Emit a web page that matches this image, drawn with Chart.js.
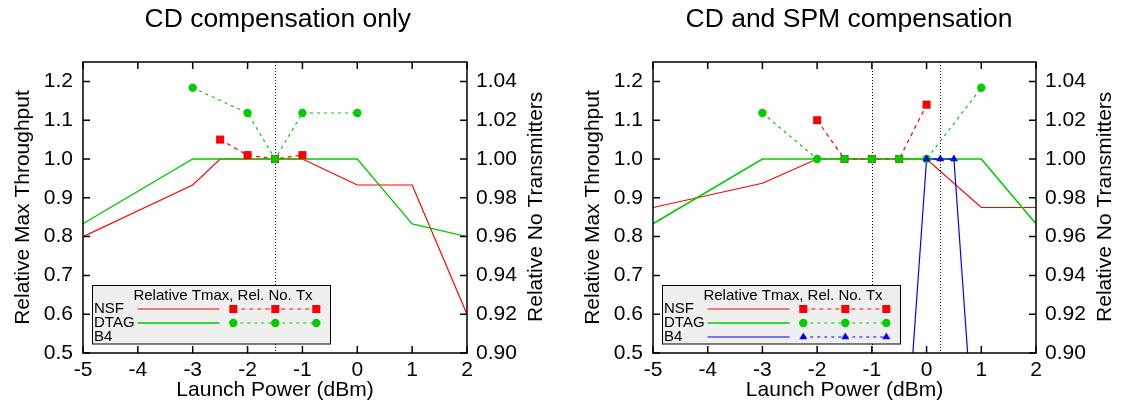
<!DOCTYPE html>
<html><head><meta charset="utf-8">
<script src="https://cdn.jsdelivr.net/npm/chart.js@4"></script>
<style>
html,body{margin:0;padding:0;background:#fff;}
#wrap{position:relative;width:1125px;height:406px;overflow:hidden;background:#fff;}
canvas{position:absolute;top:0;}
</style></head><body>
<div id="wrap">
<canvas id="c1" width="562" height="406" style="left:0px"></canvas>
<canvas id="c2" width="563" height="406" style="left:562px"></canvas>
</div>
<script>
const FONT = "'Liberation Sans', Arial, Helvetica, sans-serif";

// ---- axis ticks / labels ----
const xTicks = [-5, -4, -3, -2, -1, 0, 1, 2];
const yTmaxTicks = [0.5, 0.6, 0.7, 0.8, 0.9, 1.0, 1.1, 1.2];
const yTxTicks = [0.90, 0.92, 0.94, 0.96, 0.98, 1.00, 1.02, 1.04];
const chartTitles = ['CD compensation only', 'CD and SPM compensation'];
const xTitle = 'Launch Power (dBm)';
const yTmaxTitle = 'Relative Max Throughput';
const yTxTitle = 'Relative No Transmitters';
const legendTitle = 'Relative Tmax, Rel. No. Tx';
const seriesNames = ['NSF', 'DTAG', 'B4'];

// ---- left panel: CD compensation only ----
const cdNsfPower   = [-5, -3, -2.5, -1, 0, 1, 2];
const cdNsfTmax    = [0.80, 0.933, 1.0, 1.0, 0.933, 0.933, 0.60];
const cdDtagPower  = [-5, -3, 0, 1, 2];
const cdDtagTmax   = [0.833, 1.0, 1.0, 0.833, 0.80];
const cdNsfTxPower = [-2.5, -2, -1.5, -1];
const cdNsfTx      = [1.010, 1.002, 1.000, 1.002];
const cdDtagTxPower = [-3, -2, -1.5, -1, 0];
const cdDtagTx      = [1.0367, 1.0237, 1.000, 1.0237, 1.0237];
const cdOptima = [-1.5];

// ---- right panel: CD and SPM compensation ----
const spmNsfPower   = [-5, -3, -2, 0, 1, 2];
const spmNsfTmax    = [0.875, 0.9375, 1.0, 1.0, 0.875, 0.875];
const spmDtagPower  = [-5, -3, 1, 2];
const spmDtagTmax   = [0.833, 1.0, 1.0, 0.833];
const spmB4Power    = [-0.5, 0, 0.25, 0.5, 1];
const spmB4Tmax     = [0.0, 1.0, 1.0, 1.0, 0.0];
const spmNsfTxPower = [-2, -1.5, -1, -0.5, 0];
const spmNsfTx      = [1.020, 1.000, 1.000, 1.000, 1.028];
const spmDtagTxPower = [-3, -2, -1.5, -1, -0.5, 0, 1];
const spmDtagTx      = [1.0237, 1.000, 1.000, 1.000, 1.000, 1.000, 1.0367];
const spmB4TxPower  = [0, 0.25, 0.5];
const spmB4Tx       = [1.000, 1.000, 1.000];
const spmOptima = [-1, 0.25];

const COLORS = { NSF: '#ff0000', DTAG: '#00cc00', B4: '#0000ff' };
const DASH = { NSF: [4, 4], DTAG: [3, 4], B4: [3, 4] };
const STYLE = { NSF: 'rect', DTAG: 'circle', B4: 'triangle' };
const RADIUS = { NSF: 5.7, DTAG: 4.2, B4: 4.6 };

function pts(xs, ys) { return xs.map((x, i) => ({ x: x, y: ys[i] })); }

function tmaxSet(name, xs, ys, order, width) {
  return { series: name, kind: 'tmax', label: name, data: pts(xs, ys), yAxisID: 'y',
    borderColor: COLORS[name], backgroundColor: COLORS[name], borderWidth: width || 1.2,
    pointRadius: 0, tension: 0, order: order };
}
function txSet(name, xs, ys, order) {
  return { series: name, kind: 'tx', label: name, data: pts(xs, ys), yAxisID: 'y1',
    borderColor: COLORS[name], backgroundColor: COLORS[name], borderWidth: 1.2,
    borderDash: DASH[name], pointStyle: STYLE[name], pointRadius: RADIUS[name],
    pointBorderWidth: 0, pointBackgroundColor: COLORS[name], tension: 0, order: order };
}

function drawMarker(ctx, style, r, x, y, color) {
  ctx.save();
  ctx.fillStyle = color;
  ctx.beginPath();
  if (style === 'rect') {
    const s = r * Math.SQRT1_2;
    ctx.rect(x - s, y - s, 2 * s, 2 * s);
  } else if (style === 'circle') {
    ctx.arc(x, y, r, 0, Math.PI * 2);
  } else {
    let rad = 0;
    ctx.moveTo(x + Math.sin(rad) * r, y - Math.cos(rad) * r);
    rad += 2 * Math.PI / 3;
    ctx.lineTo(x + Math.sin(rad) * r, y - Math.cos(rad) * r);
    rad += 2 * Math.PI / 3;
    ctx.lineTo(x + Math.sin(rad) * r, y - Math.cos(rad) * r);
    ctx.closePath();
  }
  ctx.fill();
  ctx.restore();
}

const framePlugin = {
  id: 'frame',
  beforeDatasetsDraw(chart, args, opts) {
    const { ctx, chartArea: a, scales } = chart;
    ctx.save();
    ctx.strokeStyle = '#000';
    ctx.lineWidth = 1;
    ctx.setLineDash([1, 2]);
    for (const v of opts.optima) {
      const px = Math.round(scales.x.getPixelForValue(v)) + 0.5;
      ctx.beginPath(); ctx.moveTo(px, a.top); ctx.lineTo(px, a.bottom); ctx.stroke();
    }
    ctx.restore();
  },
  afterDraw(chart, args, opts) {
    const { ctx, chartArea: a, scales } = chart;
    const T = 7;
    ctx.save();
    ctx.strokeStyle = '#000';
    ctx.lineWidth = 1.5;
    ctx.setLineDash([]);
    ctx.beginPath();
    for (const v of xTicks) {
      const px = scales.x.getPixelForValue(v);
      ctx.moveTo(px, a.bottom); ctx.lineTo(px, a.bottom - T);
      ctx.moveTo(px, a.top); ctx.lineTo(px, a.top + T);
    }
    for (const v of yTmaxTicks) {
      const py = scales.y.getPixelForValue(v);
      ctx.moveTo(a.left, py); ctx.lineTo(a.left + T, py);
    }
    for (const v of yTxTicks) {
      const py = scales.y1.getPixelForValue(v);
      ctx.moveTo(a.right, py); ctx.lineTo(a.right - T, py);
    }
    ctx.stroke();
    ctx.strokeRect(a.left, a.top, a.right - a.left, a.bottom - a.top);

    // legend box
    const L = a.left, B = a.bottom;
    ctx.fillStyle = '#efefef';
    ctx.fillRect(L + 9, B - 67.5, 238, 58.5);
    ctx.lineWidth = 1;
    ctx.strokeStyle = '#000';
    ctx.strokeRect(L + 9.5, B - 67.5, 238, 58.5);
    ctx.font = '15px ' + FONT;
    ctx.fillStyle = '#000';
    ctx.textBaseline = 'middle';
    ctx.textAlign = 'center';
    ctx.fillText(legendTitle, L + 140, B - 57.5);
    seriesNames.forEach((name, i) => {
      const y = B - 44 + 14 * i;
      ctx.textAlign = 'left';
      ctx.fillStyle = '#000';
      ctx.fillText(name, L + 11, y);
      const line = chart.data.datasets.find(d => d.series === name && d.kind === 'tmax');
      const tx = chart.data.datasets.find(d => d.series === name && d.kind === 'tx');
      if (line) {
        ctx.save();
        ctx.strokeStyle = line.borderColor; ctx.lineWidth = line.borderWidth;
        ctx.setLineDash([]);
        ctx.beginPath(); ctx.moveTo(L + 54.6, y); ctx.lineTo(L + 136.6, y); ctx.stroke();
        ctx.restore();
      }
      if (tx) {
        ctx.save();
        ctx.strokeStyle = tx.borderColor; ctx.lineWidth = tx.borderWidth;
        ctx.setLineDash(tx.borderDash);
        ctx.beginPath(); ctx.moveTo(L + 150.3, y); ctx.lineTo(L + 233.3, y); ctx.stroke();
        ctx.restore();
        for (const mx of [L + 150.3, L + 192.3, L + 233.3]) {
          drawMarker(ctx, tx.pointStyle, tx.pointRadius, mx, y, tx.borderColor);
        }
      }
    });

    // chart title
    ctx.fillStyle = '#000';
    ctx.font = '26.5px ' + FONT;
    ctx.textAlign = 'center';
    ctx.textBaseline = 'alphabetic';
    ctx.fillText(opts.title, opts.titleX, 26.5);

    // right axis title (reads bottom-to-top)
    ctx.save();
    ctx.font = '21px ' + FONT;
    ctx.translate(opts.rightTitleX, (a.top + a.bottom) / 2 - 0.7);
    ctx.rotate(-Math.PI / 2);
    ctx.textAlign = 'center';
    ctx.textBaseline = 'middle';
    ctx.fillText(yTxTitle, 0, 0);
    ctx.restore();
    ctx.restore();
  }
};

Chart.defaults.color = '#000';
Chart.defaults.font.family = FONT;

function makeChart(id, datasets, cfg) {
  const tickFont = { family: FONT, size: 21 };
  return new Chart(document.getElementById(id), {
    type: 'line',
    data: { datasets: datasets },
    options: {
      responsive: false,
      animation: false,
      events: [],
      layout: { padding: { top: 62, left: 0, right: 0, bottom: 0 } },
      plugins: {
        legend: { display: false },
        tooltip: { enabled: false },
        title: { display: false },
        frame: { optima: cfg.optima, title: cfg.title, titleX: cfg.titleX, rightTitleX: cfg.rightTitleX }
      },
      scales: {
        x: {
          type: 'linear', min: -5, max: 2,
          afterBuildTicks: s => { s.ticks = xTicks.map(v => ({ value: v })); },
          afterFit: s => { s.height = 53; },
          grid: { display: false, drawTicks: false },
          border: { display: false },
          ticks: { font: tickFont, color: '#000', padding: 5, maxRotation: 0, autoSkip: false,
                   callback: v => String(v) },
          title: { display: true, text: xTitle, color: '#000', font: tickFont,
                   padding: { top: 0, bottom: 3.5 } }
        },
        y: {
          type: 'linear', position: 'left', min: 0.5, max: 1.25,
          afterBuildTicks: s => { s.ticks = yTmaxTicks.map(v => ({ value: v })); },
          afterFit: s => { s.width = cfg.leftW; },
          grid: { display: false, drawTicks: false },
          border: { display: false },
          ticks: { font: tickFont, color: '#000', padding: 10, callback: v => Number(v).toFixed(1) },
          title: { display: true, text: yTmaxTitle, color: '#000', font: tickFont,
                   padding: { top: cfg.leftTitlePad, bottom: 0 } }
        },
        y1: {
          type: 'linear', position: 'right', min: 0.90, max: 1.05,
          afterBuildTicks: s => { s.ticks = yTxTicks.map(v => ({ value: v })); },
          afterFit: s => { s.width = cfg.rightW; },
          grid: { display: false, drawTicks: false },
          border: { display: false },
          ticks: { font: tickFont, color: '#000', padding: 9, callback: v => Number(v).toFixed(2) }
        }
      }
    },
    plugins: [framePlugin]
  });
}

makeChart('c1', [
  tmaxSet('NSF', cdNsfPower, cdNsfTmax, 6, 1.2),
  tmaxSet('DTAG', cdDtagPower, cdDtagTmax, 5, 1.3),
  txSet('NSF', cdNsfTxPower, cdNsfTx, 3),
  txSet('DTAG', cdDtagTxPower, cdDtagTx, 2)
], { optima: cdOptima, title: chartTitles[0], titleX: 277.8, rightTitleX: 536,
     leftW: 83, rightW: 95, leftTitlePad: 10.4 });

makeChart('c2', [
  tmaxSet('NSF', spmNsfPower, spmNsfTmax, 6, 1.2),
  tmaxSet('DTAG', spmDtagPower, spmDtagTmax, 5, 1.6),
  tmaxSet('B4', spmB4Power, spmB4Tmax, 4, 1.2),
  txSet('NSF', spmNsfTxPower, spmNsfTx, 3),
  txSet('DTAG', spmDtagTxPower, spmDtagTx, 2),
  txSet('B4', spmB4TxPower, spmB4Tx, 1)
], { optima: spmOptima, title: chartTitles[1], titleX: 287, rightTitleX: 543,
     leftW: 91, rightW: 89, leftTitlePad: 18.4 });
</script>
</body></html>
